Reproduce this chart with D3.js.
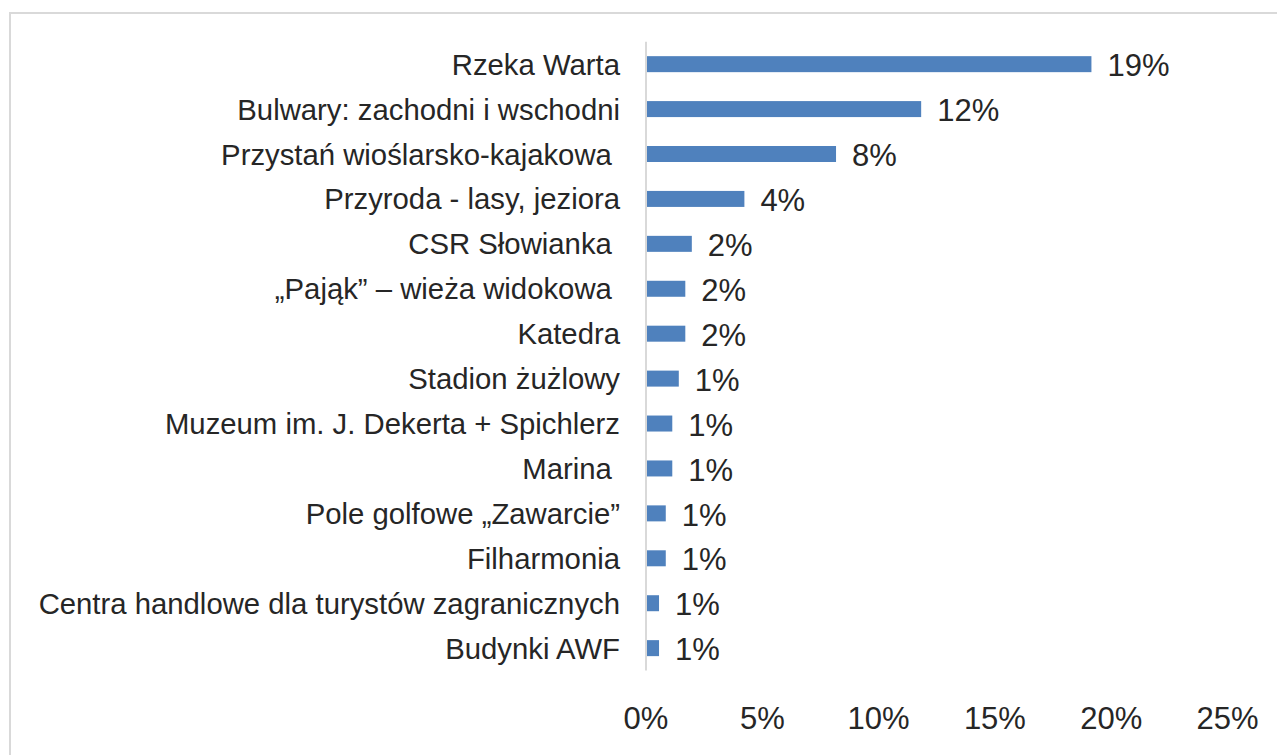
<!DOCTYPE html>
<html>
<head>
<meta charset="utf-8">
<script src="https://cdn.jsdelivr.net/npm/d3@7"></script>
<style>
  html, body { margin: 0; padding: 0; background: #ffffff; }
  svg { display: block; }
  text { font-family: "Liberation Sans", Arial, sans-serif; fill: #262626; white-space: pre; }
</style>
</head>
<body>
<svg id="chart" width="1277" height="755"></svg>
<script>
// Attractions named by respondents (share of answers, %)
const categories = [
  "Rzeka Warta",
  "Bulwary: zachodni i wschodni",
  "Przystań wioślarsko-kajakowa ",
  "Przyroda - lasy, jeziora",
  "CSR Słowianka ",
  "„Pająk” – wieża widokowa ",
  "Katedra",
  "Stadion żużlowy",
  "Muzeum im. J. Dekerta + Spichlerz",
  "Marina ",
  "Pole golfowe „Zawarcie”",
  "Filharmonia",
  "Centra handlowe dla turystów zagranicznych",
  "Budynki AWF"
];
const values = [19.15, 11.83, 8.17, 4.23, 1.97, 1.69, 1.69, 1.41, 1.13, 1.13, 0.85, 0.85, 0.56, 0.56];
const tickValues = [0, 5, 10, 15, 20, 25];

const svg = d3.select("#chart");

// outer frame
svg.append("rect")
  .attr("x", 10).attr("y", 13)
  .attr("width", 1320).attr("height", 800)
  .attr("fill", "none")
  .attr("stroke", "#d9d9d9")
  .attr("stroke-width", 2);

const x = d3.scaleLinear().domain([0, 25]).range([646, 1227.5]);
const y = d3.scaleBand()
  .domain(categories)
  .range([41.7, 670.6])
  .paddingInner(0.644)
  .paddingOuter(0.322);

const fmt = v => d3.format(".0f")(v) + "%";

// bars
svg.append("g").selectAll("rect")
  .data(values)
  .join("rect")
  .attr("x", x(0))
  .attr("y", (d, i) => y(categories[i]))
  .attr("width", d => x(d) - x(0))
  .attr("height", y.bandwidth())
  .attr("fill", "#4f81bd");

// vertical category axis line
svg.append("line")
  .attr("x1", x(0)).attr("x2", x(0))
  .attr("y1", y.range()[0]).attr("y2", y.range()[1])
  .attr("stroke", "#d9d9d9")
  .attr("stroke-width", 2);

// category labels
svg.append("g").selectAll("text")
  .data(categories)
  .join("text")
  .attr("x", 620)
  .attr("y", d => y(d) + y.bandwidth() / 2)
  .attr("dy", "0.36em")
  .attr("text-anchor", "end")
  .attr("font-size", 29.3)
  .text(d => d);

// value labels
svg.append("g").selectAll("text")
  .data(values)
  .join("text")
  .attr("x", d => x(d) + 16)
  .attr("y", (d, i) => y(categories[i]) + y.bandwidth() / 2 + 1)
  .attr("dy", "0.36em")
  .attr("font-size", 31)
  .text(d => fmt(d));

// value axis tick labels
svg.append("g").selectAll("text")
  .data(tickValues)
  .join("text")
  .attr("x", d => x(d))
  .attr("y", 717.5)
  .attr("dy", "0.36em")
  .attr("text-anchor", "middle")
  .attr("font-size", 31)
  .text(d => d + "%");
</script>
</body>
</html>
